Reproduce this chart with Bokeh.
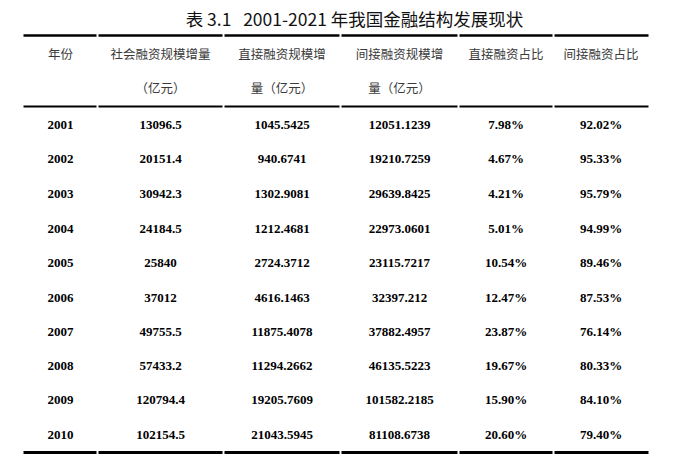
from bokeh.plotting import figure
from bokeh.models import Range1d, ColumnDataSource
from bokeh.core.properties import value
from bokeh.embed import file_html
from bokeh.resources import INLINE

title_text = "表 3.1\u00a0\u00a0\u00a02001-2021 年我国金融结构发展现状"
header_line1 = ["年份", "社会融资规模增量", "直接融资规模增", "间接融资规模增", "直接融资占比", "间接融资占比"]
header_line2 = ["", "（亿元）", "量（亿元）", "量（亿元）", "", ""]

years = [2001, 2002, 2003, 2004, 2005, 2006, 2007, 2008, 2009, 2010]
social = [13096.5, 20151.4, 30942.3, 24184.5, 25840, 37012, 49755.5, 57433.2, 120794.4, 102154.5]
direct = [1045.5425, 940.6741, 1302.9081, 1212.4681, 2724.3712, 4616.1463, 11875.4078, 11294.2662, 19205.7609, 21043.5945]
indirect = [12051.1239, 19210.7259, 29639.8425, 22973.0601, 23115.7217, 32397.212, 37882.4957, 46135.5223, 101582.2185, 81108.6738]
direct_pct = [7.98, 4.67, 4.21, 5.01, 10.54, 12.47, 23.87, 19.67, 15.90, 20.60]
indirect_pct = [92.02, 95.33, 95.79, 94.99, 89.46, 87.53, 76.14, 80.33, 84.10, 79.40]

W, H = 687, 457
# layout (pixels)
col_bounds = [23, 97, 223, 340, 458, 553, 648]
row_y = [124, 158, 193, 228, 262, 297, 331, 365, 399, 434]

col_centers = [(a + b) / 2 for a, b in zip(col_bounds[:-1], col_bounds[1:])]

p = figure(width=W, height=H, output_backend="svg", toolbar_location=None,
           x_range=Range1d(0, W), y_range=Range1d(H, 0), min_border=0)
p.axis.visible = False
p.grid.visible = False
p.outline_line_color = None
p.background_fill_color = "white"
p.border_fill_color = "white"

# title
p.text(x=[354], y=[18], text=[title_text], text_align="center", text_baseline="middle",
       text_font=value("Noto Sans CJK SC"), text_font_size="17.5px", text_color="#111111")

# rules (small gaps at column boundaries)
def rule(y, w):
    xs0 = [a + 1 for a in col_bounds[:-1]]
    xs1 = [b - 1 for b in col_bounds[1:]]
    xs0[0] = col_bounds[0]
    xs1[-1] = col_bounds[-1]
    p.segment(x0=xs0, y0=[y] * len(xs0), x1=xs1, y1=[y] * len(xs0),
              line_color="black", line_width=w, line_cap="butt")

rule(35, 2.5)
rule(106, 2)
rule(452, 3)

# header
p.text(x=col_centers, y=[53] * 6, text=header_line1, text_align="center", text_baseline="middle",
       text_font=value("Noto Sans CJK SC"), text_font_size="12.5px", text_color="#3a3a3a")
p.text(x=col_centers, y=[87] * 6, text=header_line2, text_align="center", text_baseline="middle",
       text_font=value("Noto Sans CJK SC"), text_font_size="12.5px", text_color="#3a3a3a")

columns = [
    [str(y) for y in years],
    [str(v) for v in social],
    [str(v) for v in direct],
    [str(v) for v in indirect],
    [f"{v:.2f}%" for v in direct_pct],
    [f"{v:.2f}%" for v in indirect_pct],
]
for cx, texts in zip(col_centers, columns):
    src = ColumnDataSource(dict(x=[cx] * len(texts), y=row_y, t=texts))
    p.text(x="x", y="y", text="t", source=src, text_align="center", text_baseline="middle",
           text_font=value("Liberation Serif"), text_font_style="bold", text_font_size="13px",
           text_color="black")

open("out.html", "w").write(file_html(p, INLINE))
